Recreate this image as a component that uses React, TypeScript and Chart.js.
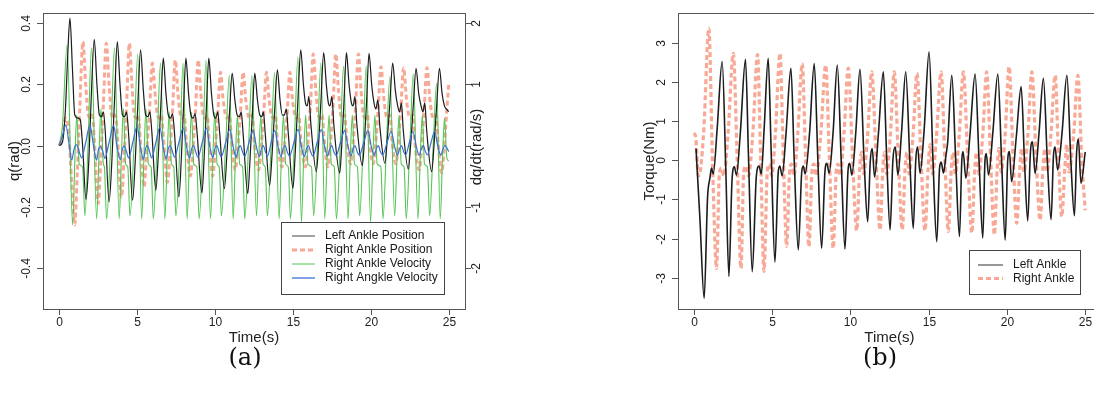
import { useEffect, useRef } from "react";
import { Chart, registerables } from "chart.js";
Chart.register(...registerables);

// ---------- tick values / labels ----------
const timeTicks = [0, 5, 10, 15, 20, 25];
const timeTickLabels = ["0", "5", "10", "15", "20", "25"];
const qTicks = [-0.4, -0.2, 0, 0.2, 0.4];
const qTickLabels = ["-0.4", "-0.2", "0.0", "0.2", "0.4"];
const dqTicks = [-2, -1, 0, 1, 2];
const dqTickLabels = ["-2", "-1", "", "1", "2"];
const torqueTicks = [-3, -2, -1, 0, 1, 2, 3];
const torqueTickLabels = ["-3", "-2", "-1", "0", "1", "2", "3"];

const legendA = ["Left Ankle Position", "Right Ankle Position", "Right Ankle Velocity", "Right Angkle Velocity"];
const legendB = ["Left Ankle", "Right Ankle"];

// ---------- panel (a): joint positions q (rad) and velocity ----------
// [time s, q rad]
const leftAnklePos: [number, number][] = [
  [0, 0], [0.2, 0.01], [0.4, 0.12], [0.55, 0.3], [0.69, 0.417], [0.85, 0.25], [1.0, 0.1], [1.2, 0.09], [1.35, 0.085], [1.5, 0.0],
  [1.72, -0.176], [1.9, -0.05], [2.05, 0.15], [2.25, 0.348], [2.42, 0.2], [2.58, 0.1], [2.72, 0.095], [2.83, 0.11], [2.95, 0.05],
  [3.2, -0.184], [3.38, -0.05], [3.55, 0.15], [3.73, 0.34], [3.9, 0.2], [4.06, 0.1], [4.2, 0.095], [4.32, 0.11], [4.45, 0.04],
  [4.71, -0.179], [4.88, -0.05], [5.05, 0.14], [5.22, 0.313], [5.4, 0.18], [5.55, 0.1], [5.7, 0.095], [5.82, 0.11], [5.95, 0.04],
  [6.2, -0.146], [6.36, -0.03], [6.52, 0.13], [6.68, 0.286], [6.85, 0.17], [7.0, 0.1], [7.15, 0.09], [7.27, 0.105], [7.4, 0.04],
  [7.68, -0.168], [7.84, -0.04], [7.98, 0.13], [8.13, 0.286], [8.3, 0.17], [8.45, 0.1], [8.6, 0.09], [8.72, 0.105], [8.85, 0.04],
  [9.16, -0.155], [9.3, -0.04], [9.45, 0.13], [9.6, 0.286], [9.77, 0.17], [9.92, 0.1], [10.05, 0.09], [10.17, 0.11], [10.3, 0.04],
  [10.6, -0.141], [10.76, -0.03], [10.93, 0.11], [11.1, 0.237], [11.27, 0.15], [11.42, 0.1], [11.57, 0.095], [11.68, 0.11], [11.8, 0.04],
  [12.1, -0.157], [12.25, -0.04], [12.4, 0.11], [12.55, 0.237], [12.72, 0.15], [12.87, 0.1], [13.0, 0.095], [13.1, 0.11], [13.22, 0.04],
  [13.5, -0.13], [13.66, -0.03], [13.83, 0.12], [14.0, 0.248], [14.17, 0.15], [14.32, 0.1], [14.45, 0.1], [14.57, 0.12], [14.7, 0.04],
  [15.0, -0.14], [15.15, -0.02], [15.32, 0.15], [15.5, 0.313], [15.67, 0.2], [15.8, 0.14], [15.92, 0.13], [16.02, 0.16], [16.15, 0.07],
  [16.5, -0.085], [16.64, 0.0], [16.8, 0.15], [16.97, 0.304], [17.14, 0.2], [17.27, 0.14], [17.38, 0.13], [17.5, 0.16], [17.62, 0.07],
  [18.0, -0.09], [18.13, 0.0], [18.28, 0.15], [18.43, 0.304], [18.6, 0.2], [18.75, 0.14], [18.86, 0.13], [18.98, 0.16], [19.1, 0.07],
  [19.45, -0.065], [19.58, 0.01], [19.73, 0.15], [19.88, 0.302], [20.05, 0.2], [20.2, 0.14], [20.32, 0.12], [20.45, 0.15], [20.58, 0.06],
  [20.9, -0.058], [21.05, 0.02], [21.22, 0.14], [21.4, 0.27], [21.57, 0.18], [21.72, 0.13], [21.84, 0.11], [21.96, 0.14], [22.08, 0.05],
  [22.4, -0.077], [22.55, 0.0], [22.72, 0.13], [22.9, 0.253], [23.07, 0.17], [23.22, 0.13], [23.34, 0.11], [23.46, 0.14], [23.58, 0.05],
  [23.9, -0.085], [24.05, 0.0], [24.22, 0.13], [24.4, 0.253], [24.57, 0.17], [24.72, 0.13], [24.84, 0.12], [25.0, 0.111],
];

const rightAnklePos: [number, number][] = [
  [0, 0], [0.2, 0.03], [0.4, 0.09], [0.6, 0.05], [0.8, -0.12], [1.0, -0.26], [1.15, -0.1], [1.32, 0.12],
  [1.52, 0.34], [1.7, 0.2], [1.87, 0.1], [2.0, 0.09], [2.12, 0.1], [2.25, 0.02], [2.5, -0.19], [2.66, -0.06], [2.83, 0.13],
  [3.02, 0.335], [3.2, 0.2], [3.36, 0.1], [3.5, 0.09], [3.62, 0.1], [3.75, 0.02], [4.0, -0.17], [4.15, -0.05], [4.32, 0.13],
  [4.5, 0.335], [4.67, 0.2], [4.82, 0.1], [4.96, 0.09], [5.08, 0.1], [5.2, 0.02], [5.45, -0.135], [5.6, -0.03], [5.78, 0.1],
  [5.98, 0.27], [6.15, 0.17], [6.3, 0.1], [6.44, 0.09], [6.56, 0.1], [6.7, 0.02], [6.95, -0.12], [7.1, -0.03], [7.27, 0.11],
  [7.45, 0.28], [7.62, 0.17], [7.77, 0.1], [7.9, 0.09], [8.02, 0.1], [8.15, 0.02], [8.42, -0.1], [8.57, -0.02], [8.74, 0.11],
  [8.92, 0.28], [9.09, 0.17], [9.24, 0.1], [9.38, 0.09], [9.5, 0.1], [9.62, 0.02], [9.85, -0.1], [10.0, -0.02], [10.17, 0.1],
  [10.35, 0.24], [10.52, 0.15], [10.67, 0.1], [10.8, 0.09], [10.92, 0.1], [11.05, 0.02], [11.3, -0.08], [11.45, -0.01], [11.62, 0.1],
  [11.8, 0.24], [11.97, 0.15], [12.12, 0.1], [12.26, 0.09], [12.38, 0.1], [12.5, 0.02], [12.8, -0.08], [12.95, -0.01], [13.12, 0.1],
  [13.3, 0.24], [13.47, 0.15], [13.62, 0.1], [13.76, 0.09], [13.88, 0.1], [14.0, 0.02], [14.3, -0.07], [14.45, 0.0], [14.62, 0.1],
  [14.8, 0.24], [14.97, 0.15], [15.12, 0.1], [15.26, 0.09], [15.38, 0.1], [15.5, 0.02], [15.8, -0.07], [15.95, 0.0], [16.12, 0.13],
  [16.3, 0.3], [16.47, 0.18], [16.62, 0.1], [16.76, 0.09], [16.88, 0.1], [17.0, 0.02], [17.25, -0.07], [17.4, 0.0], [17.57, 0.13],
  [17.75, 0.3], [17.92, 0.18], [18.07, 0.1], [18.2, 0.09], [18.32, 0.1], [18.45, 0.02], [18.7, -0.06], [18.85, 0.0], [19.02, 0.13],
  [19.2, 0.3], [19.37, 0.18], [19.52, 0.1], [19.66, 0.09], [19.78, 0.1], [19.9, 0.02], [20.15, -0.06], [20.3, 0.0], [20.47, 0.12],
  [20.65, 0.258], [20.82, 0.16], [20.97, 0.1], [21.1, 0.09], [21.22, 0.1], [21.35, 0.02], [21.6, -0.06], [21.75, 0.0], [21.92, 0.12],
  [22.1, 0.255], [22.27, 0.16], [22.42, 0.1], [22.56, 0.09], [22.68, 0.1], [22.8, 0.02], [23.1, -0.08], [23.25, -0.01], [23.42, 0.12],
  [23.6, 0.255], [23.77, 0.16], [23.92, 0.1], [24.06, 0.09], [24.18, 0.1], [24.3, 0.02], [24.55, -0.09], [24.7, -0.01], [24.85, 0.1],
  [25.0, 0.204],
];

// [time s, dq/dt rad/s] (right axis)
const rightAnkleVel: [number, number][] = [
  [0, 0], [0.2, 0.3], [0.51, 1.65], [0.86, -1.3], [1.02, -0.1], [1.13, 0.5], [1.28, -0.3], [1.5, -0.35], [1.65, -1.15], [1.85, 0.0],
  [2.07, 1.6], [2.4, -1.2], [2.56, -0.1], [2.68, 0.6], [2.83, -0.3], [2.9, -0.35], [3.04, -1.2], [3.3, 0.0],
  [3.55, 1.6], [3.85, -1.2], [4.0, -0.1], [4.12, 0.6], [4.26, -0.3], [4.4, -0.35], [4.54, -1.15], [4.8, 0.0],
  [5.04, 1.5], [5.29, -1.2], [5.45, -0.1], [5.57, 0.6], [5.72, -0.3], [5.9, -0.35], [6.04, -1.2], [6.28, 0.0],
  [6.5, 1.35], [6.78, -1.2], [6.94, -0.1], [7.06, 0.55], [7.2, -0.3], [7.35, -0.35], [7.49, -1.15], [7.75, 0.0],
  [7.95, 1.35], [8.21, -1.2], [8.37, -0.1], [8.49, 0.55], [8.63, -0.3], [8.83, -0.35], [8.98, -1.2], [9.22, 0.0],
  [9.42, 1.4], [9.71, -1.2], [9.87, -0.1], [9.99, 0.55], [10.13, -0.3], [10.27, -0.35], [10.41, -1.15], [10.68, 0.0],
  [10.92, 1.15], [11.16, -1.2], [11.32, -0.1], [11.44, 0.5], [11.58, -0.3], [11.77, -0.35], [11.91, -1.2], [12.15, 0.0],
  [12.37, 1.15], [12.66, -1.15], [12.82, -0.1], [12.94, 0.5], [13.08, -0.3], [13.22, -0.35], [13.36, -1.15], [13.6, 0.0],
  [13.82, 1.2], [14.11, -1.2], [14.27, -0.1], [14.39, 0.5], [14.53, -0.3], [14.7, -0.35], [14.84, -1.2], [15.08, 0.0],
  [15.32, 1.45], [15.54, -1.25], [15.7, -0.1], [15.82, 0.5], [15.96, -0.3], [16.19, -0.35], [16.33, -1.15], [16.57, 0.0],
  [16.79, 1.35], [17.04, -1.2], [17.2, -0.1], [17.32, 0.5], [17.46, -0.3], [17.65, -0.35], [17.79, -1.2], [18.03, 0.0],
  [18.25, 1.3], [18.53, -1.2], [18.69, -0.1], [18.81, 0.5], [18.95, -0.3], [19.14, -0.35], [19.28, -1.15], [19.5, 0.0],
  [19.7, 1.3], [19.98, -1.25], [20.14, -0.1], [20.26, 0.5], [20.4, -0.3], [20.64, -0.35], [20.78, -1.2], [21.0, 0.0],
  [21.22, 1.13], [21.53, -1.15], [21.69, -0.1], [21.81, 0.5], [21.95, -0.3], [22.13, -0.35], [22.27, -1.2], [22.5, 0.0],
  [22.72, 1.17], [23.02, -1.2], [23.18, -0.1], [23.3, 0.5], [23.44, -0.3], [23.63, -0.35], [23.77, -1.15], [24.0, 0.0],
  [24.22, 1.02], [24.45, -1.2], [24.61, -0.1], [24.73, 0.45], [24.87, -0.2], [25.0, -0.25],
];

// [time s, q rad] small oscillation (left axis)
const rightAngkleVel: [number, number][] = [
  [0, 0], [0.2, 0.03], [0.42, 0.068], [0.62, 0.01], [0.8, -0.048], [0.96, -0.01], [1.12, 0.002], [1.28, -0.02], [1.44, -0.04],
  [1.7, 0.01], [1.97, 0.068], [2.2, 0.0], [2.4, -0.048], [2.53, -0.01], [2.66, -0.003], [2.8, -0.02], [2.93, -0.042],
  [3.2, 0.01], [3.49, 0.066], [3.7, 0.0], [3.92, -0.046], [4.06, -0.01], [4.18, -0.002], [4.32, -0.02], [4.45, -0.04],
  [4.72, 0.01], [5.0, 0.063], [5.2, 0.0], [5.4, -0.045], [5.54, -0.01], [5.66, 0.0], [5.8, -0.02], [5.93, -0.04],
  [6.2, 0.01], [6.46, 0.06], [6.66, 0.0], [6.86, -0.044], [7.0, -0.01], [7.13, 0.0], [7.27, -0.02], [7.4, -0.038],
  [7.68, 0.01], [7.96, 0.058], [8.16, 0.0], [8.36, -0.042], [8.5, -0.01], [8.62, 0.0], [8.76, -0.02], [8.9, -0.038],
  [9.18, 0.01], [9.45, 0.057], [9.65, 0.0], [9.85, -0.04], [9.99, -0.01], [10.12, 0.0], [10.25, -0.02], [10.4, -0.036],
  [10.68, 0.01], [10.95, 0.053], [11.15, 0.0], [11.35, -0.038], [11.5, -0.01], [11.62, 0.0], [11.76, -0.02], [11.9, -0.035],
  [12.18, 0.01], [12.44, 0.05], [12.64, 0.0], [12.84, -0.036], [12.98, -0.01], [13.1, 0.0], [13.23, -0.02], [13.37, -0.034],
  [13.6, 0.01], [13.83, 0.05], [14.03, 0.0], [14.23, -0.036], [14.37, -0.01], [14.5, 0.0], [14.63, -0.02], [14.78, -0.034],
  [15.06, 0.01], [15.33, 0.053], [15.53, 0.0], [15.73, -0.036], [15.87, -0.01], [16.0, 0.0], [16.13, -0.02], [16.28, -0.034],
  [16.55, 0.01], [16.82, 0.052], [17.02, 0.0], [17.22, -0.034], [17.36, -0.01], [17.49, 0.0], [17.62, -0.02], [17.77, -0.032],
  [18.05, 0.01], [18.32, 0.05], [18.52, 0.0], [18.72, -0.034], [18.86, -0.01], [18.98, 0.0], [19.12, -0.02], [19.26, -0.032],
  [19.54, 0.01], [19.81, 0.05], [20.01, 0.0], [20.21, -0.032], [20.35, -0.01], [20.48, 0.0], [20.61, -0.02], [20.76, -0.03],
  [21.04, 0.01], [21.31, 0.046], [21.51, 0.0], [21.71, -0.032], [21.85, -0.01], [21.97, 0.0], [22.1, -0.02], [22.24, -0.03],
  [22.47, 0.01], [22.7, 0.046], [22.9, 0.0], [23.1, -0.032], [23.24, -0.01], [23.37, 0.0], [23.5, -0.02], [23.64, -0.03],
  [23.86, 0.01], [24.09, 0.046], [24.29, 0.0], [24.49, -0.032], [24.63, -0.01], [24.76, 0.0], [25.0, -0.02],
];

// ---------- panel (b): torques (Nm) ----------
const leftAnkleTorque: [number, number][] = [
  [0.15, 0.3], [0.4, -1.5], [0.67, -3.53], [0.89, -0.93], [1.04, -0.45], [1.14, -0.2], [1.25, -0.35], [1.5, 0.8], [1.82, 2.52],
  [2.05, -0.2], [2.25, -2.97], [2.45, -0.5], [2.6, -0.17], [2.73, -0.38], [2.98, 0.7], [3.31, 2.58],
  [3.5, 0.1], [3.74, -2.85], [4.0, -0.42], [4.17, -0.15], [4.32, -0.35], [4.5, 0.8], [4.76, 2.6],
  [4.95, 0.2], [5.19, -2.6], [5.4, -0.3], [5.5, -0.15], [5.65, -0.4], [5.9, 0.7], [6.21, 2.35],
  [6.42, 0.0], [6.68, -2.29], [6.9, -0.3], [7.0, -0.15], [7.12, -0.35], [7.4, 0.7], [7.7, 2.47],
  [7.93, 0.0], [8.17, -2.25], [8.38, -0.3], [8.5, -0.08], [8.65, -0.33], [8.9, 0.7], [9.17, 2.43],
  [9.42, 0.0], [9.66, -2.27], [9.85, -0.3], [9.96, -0.08], [10.1, -0.38], [10.35, 0.7], [10.62, 2.32],
  [10.88, 0.0], [11.11, -1.57], [11.28, 0.0], [11.4, 0.3], [11.55, -0.43], [11.8, 0.7], [12.11, 2.26],
  [12.33, 0.0], [12.54, -1.78], [12.72, 0.0], [12.87, 0.34], [13.04, -0.38], [13.27, 0.7], [13.54, 2.26],
  [13.8, 0.0], [14.02, -1.74], [14.18, 0.0], [14.3, 0.34], [14.45, -0.33], [14.72, 0.8], [15.03, 2.77],
  [15.28, 0.0], [15.52, -2.08], [15.7, -0.2], [15.8, -0.05], [15.95, -0.33], [16.1, 0.1], [16.22, 0.47], [16.48, 2.17],
  [16.73, 0.0], [16.97, -1.95], [17.12, 0.0], [17.2, 0.22], [17.38, -0.46], [17.65, 0.7], [17.97, 2.2],
  [18.22, 0.0], [18.46, -1.99], [18.6, 0.0], [18.68, 0.17], [18.83, -0.38], [19.1, 0.7], [19.42, 2.2],
  [19.66, 0.0], [19.89, -2.04], [20.05, 0.0], [20.16, 0.22], [20.3, -0.55], [20.6, 0.6], [20.91, 1.88],
  [21.12, 0.0], [21.33, -1.55], [21.5, 0.2], [21.63, 0.47], [21.8, -0.34], [22.05, 0.7], [22.33, 2.09],
  [22.58, 0.0], [22.82, -1.52], [22.97, 0.1], [23.07, 0.34], [23.24, -0.25], [23.52, 0.7], [23.83, 2.17],
  [24.08, 0.0], [24.31, -1.42], [24.45, 0.2], [24.56, 0.55], [24.73, -0.59], [25.0, 0.21],
];

const rightAnkleTorque: [number, number][] = [
  [0.0, 0.69], [0.12, 0.62], [0.3, -0.4], [0.45, -0.2], [0.65, 0.8], [0.97, 3.37],
  [1.2, 0.0], [1.46, -2.76], [1.65, -0.3], [1.78, -0.2], [1.92, -0.4], [2.2, 0.7], [2.53, 2.73],
  [2.78, 0.0], [3.02, -2.76], [3.2, -0.3], [3.35, -0.15], [3.5, -0.4], [3.78, 0.7], [4.08, 2.7],
  [4.28, 0.0], [4.49, -2.84], [4.7, -0.3], [4.83, -0.1], [4.98, -0.4], [5.22, 0.7], [5.51, 2.73],
  [5.73, 0.0], [5.94, -2.2], [6.12, -0.3], [6.25, -0.1], [6.4, -0.4], [6.65, 0.7], [6.93, 2.47],
  [7.15, 0.0], [7.36, -2.21], [7.55, -0.3], [7.68, -0.1], [7.82, -0.4], [8.12, 0.7], [8.43, 2.43],
  [8.67, 0.0], [8.91, -2.25], [9.1, -0.3], [9.22, -0.1], [9.36, -0.4], [9.6, 0.7], [9.87, 2.35],
  [10.15, 0.0], [10.41, -1.8], [10.6, -0.2], [10.72, 0.2], [10.85, -0.35], [11.1, 0.6], [11.37, 2.26],
  [11.65, 0.0], [11.9, -1.78], [12.08, -0.2], [12.2, 0.2], [12.33, -0.35], [12.55, 0.6], [12.81, 2.26],
  [13.07, 0.0], [13.32, -1.78], [13.5, -0.2], [13.62, 0.2], [13.75, -0.35], [14.0, 0.6], [14.26, 2.22],
  [14.52, 0.0], [14.77, -1.8], [14.97, -0.2], [15.1, 0.4], [15.25, -0.35], [15.5, 0.6], [15.8, 2.26],
  [16.04, 0.0], [16.26, -1.82], [16.45, -0.2], [16.57, 0.2], [16.7, -0.35], [16.95, 0.6], [17.22, 2.26],
  [17.5, 0.0], [17.76, -1.86], [17.95, -0.2], [18.07, 0.2], [18.2, -0.35], [18.45, 0.6], [18.71, 2.26],
  [18.96, 0.0], [19.2, -1.9], [19.38, -0.2], [19.5, 0.3], [19.63, -0.3], [19.88, 0.6], [20.14, 2.39],
  [20.4, 0.0], [20.63, -1.61], [20.82, -0.2], [20.95, 0.3], [21.08, -0.3], [21.33, 0.6], [21.59, 2.26],
  [21.87, 0.0], [22.12, -1.53], [22.3, -0.2], [22.42, 0.3], [22.55, -0.3], [22.8, 0.6], [23.08, 2.17],
  [23.3, 0.0], [23.5, -1.44], [23.7, -0.2], [23.82, 0.4], [23.95, -0.3], [24.25, 0.6], [24.53, 2.17],
  [24.78, 0.0], [25.0, -1.28],
];

// ---------- styling ----------
const FONT = '"Liberation Sans", Arial, Helvetica, sans-serif';
const BLACK = "#1c1c1c";
const ORANGE = "rgba(243,115,82,0.62)";
const GREEN = "#55c555";
const BLUE = "#3c6fd4";
const FRAME = "#555555";

type LegendItem = { label: string; color: string; width: number; dash: number[] };
type PanelSpec = {
  offsetX: number;
  xTitleAt: number;
  yAxes: { id: string; side: "left" | "right"; ticks: number[]; labels: string[]; labelX: number }[];
  yTitles: { text: string; x: number; y: number }[];
  legend: { x0: number; y0: number; x1: number; y1: number; lx0: number; lx1: number; tx: number; rows: number[]; items: LegendItem[] };
};

function makeAxesPlugin(spec: PanelSpec) {
  return {
    id: "rStyleAxes",
    afterDraw(chart: any) {
      const ctx: CanvasRenderingContext2D = chart.ctx;
      const ca = chart.chartArea;
      const xs = chart.scales.x;
      const ox = spec.offsetX;
      ctx.save();
      // frame
      ctx.strokeStyle = FRAME;
      ctx.lineWidth = 1;
      ctx.setLineDash([]);
      ctx.strokeRect(Math.round(ca.left) + 0.5, Math.round(ca.top) + 0.5, Math.round(ca.right - ca.left), Math.round(ca.bottom - ca.top));
      ctx.fillStyle = "#222";
      ctx.font = `12px ${FONT}`;
      // x ticks
      ctx.textAlign = "center";
      ctx.textBaseline = "middle";
      timeTicks.forEach((v, i) => {
        const px = Math.round(xs.getPixelForValue(v)) + 0.5;
        ctx.beginPath();
        ctx.moveTo(px, ca.bottom);
        ctx.lineTo(px, ca.bottom + 6);
        ctx.stroke();
        ctx.fillText(timeTickLabels[i], px, ca.bottom + 14);
      });
      // y axes
      spec.yAxes.forEach((ax) => {
        const sc = chart.scales[ax.id];
        const edge = ax.side === "left" ? ca.left : ca.right;
        const dir = ax.side === "left" ? -1 : 1;
        ax.ticks.forEach((v, i) => {
          const py = Math.round(sc.getPixelForValue(v)) + 0.5;
          ctx.beginPath();
          ctx.moveTo(edge, py);
          ctx.lineTo(edge + dir * 6, py);
          ctx.stroke();
          if (ax.labels[i]) {
            ctx.save();
            ctx.translate(ax.labelX - ox, py);
            ctx.rotate(-Math.PI / 2);
            ctx.fillText(ax.labels[i], 0, 0);
            ctx.restore();
          }
        });
      });
      // axis titles
      ctx.font = `15px ${FONT}`;
      ctx.fillText("Time(s)", xs.getPixelForValue(spec.xTitleAt), ca.bottom + 29);
      spec.yTitles.forEach((t) => {
        ctx.save();
        ctx.translate(t.x - ox, t.y);
        ctx.rotate(-Math.PI / 2);
        ctx.fillText(t.text, 0, 0);
        ctx.restore();
      });
      // legend
      const lg = spec.legend;
      ctx.fillStyle = "#ffffff";
      ctx.fillRect(lg.x0 - ox, lg.y0, lg.x1 - lg.x0, lg.y1 - lg.y0);
      ctx.strokeStyle = "#444";
      ctx.lineWidth = 1;
      ctx.strokeRect(Math.round(lg.x0 - ox) + 0.5, Math.round(lg.y0) + 0.5, Math.round(lg.x1 - lg.x0), Math.round(lg.y1 - lg.y0));
      ctx.font = `12px ${FONT}`;
      ctx.textAlign = "left";
      lg.items.forEach((it, i) => {
        const y = lg.rows[i];
        ctx.strokeStyle = it.color;
        ctx.lineWidth = it.width;
        ctx.setLineDash(it.dash);
        ctx.beginPath();
        ctx.moveTo(lg.lx0 - ox, y);
        ctx.lineTo(lg.lx1 - ox, y);
        ctx.stroke();
        ctx.setLineDash([]);
        ctx.fillStyle = "#1a1a1a";
        ctx.fillText(it.label, lg.tx - ox, y);
      });
      ctx.restore();
    },
  };
}

const toXY = (pts: [number, number][]) => pts.map(([x, y]) => ({ x, y }));

function lineDs(label: string, pts: [number, number][], color: string, width: number, dash: number[], axis: string, order: number) {
  return {
    label,
    data: toXY(pts),
    borderColor: color,
    borderWidth: width,
    borderDash: dash,
    pointRadius: 0,
    fill: false,
    cubicInterpolationMode: "monotone" as const,
    yAxisID: axis,
    order,
  };
}

export default function App() {
  const refA = useRef<HTMLCanvasElement | null>(null);
  const refB = useRef<HTMLCanvasElement | null>(null);

  useEffect(() => {
    const specA: PanelSpec = {
      offsetX: 0,
      xTitleAt: 12.5,
      yAxes: [
        { id: "y", side: "left", ticks: qTicks, labels: qTickLabels, labelX: 27 },
        { id: "y2", side: "right", ticks: dqTicks, labels: dqTickLabels, labelX: 477 },
      ],
      yTitles: [
        { text: "q(rad)", x: 15, y: 161 },
        { text: "dq/dt(rad/s)", x: 477, y: 147 },
      ],
      legend: {
        x0: 281, y0: 222, x1: 444, y1: 294, lx0: 292, lx1: 315, tx: 325,
        rows: [236, 250, 264, 278],
        items: [
          { label: legendA[0], color: "#444", width: 1, dash: [] },
          { label: legendA[1], color: ORANGE, width: 3, dash: [5, 3] },
          { label: legendA[2], color: GREEN, width: 1, dash: [] },
          { label: legendA[3], color: BLUE, width: 1.3, dash: [] },
        ],
      },
    };
    const specB: PanelSpec = {
      offsetX: 547,
      xTitleAt: 12.5,
      yAxes: [{ id: "y", side: "left", ticks: torqueTicks, labels: torqueTickLabels, labelX: 662 }],
      yTitles: [{ text: "Torque(Nm)", x: 650, y: 161 }],
      legend: {
        x0: 969, y0: 250, x1: 1080, y1: 294, lx0: 978, lx1: 1003, tx: 1013,
        rows: [265, 278.5],
        items: [
          { label: legendB[0], color: "#333", width: 1, dash: [] },
          { label: legendB[1], color: ORANGE, width: 3, dash: [5, 3] },
        ],
      },
    };

    const chartA = new Chart(refA.current!, {
      type: "line",
      data: {
        datasets: [
          lineDs(legendA[0], leftAnklePos, BLACK, 1.2, [], "y", 2),
          lineDs(legendA[1], rightAnklePos, ORANGE, 3, [5, 3], "y", 4),
          lineDs(legendA[2], rightAnkleVel, GREEN, 1.1, [], "y2", 3),
          lineDs(legendA[3], rightAngkleVel, BLUE, 1.2, [], "y", 1),
        ],
      },
      options: {
        animation: false,
        responsive: false,
        events: [],
        layout: { padding: { left: 43, top: 13, right: 547 - 465, bottom: 395 - 309 } },
        plugins: { legend: { display: false }, tooltip: { enabled: false } },
        scales: {
          x: { type: "linear", min: -1.04, max: 26.04, display: false },
          y: { type: "linear", min: -0.535, max: 0.434, display: false },
          y2: { type: "linear", min: -2.675, max: 2.17, display: false, position: "right" },
        },
      },
      plugins: [makeAxesPlugin(specA)],
    } as any);

    const chartB = new Chart(refB.current!, {
      type: "line",
      data: {
        datasets: [
          lineDs(legendB[0], leftAnkleTorque, BLACK, 1.6, [], "y", 1),
          lineDs(legendB[1], rightAnkleTorque, ORANGE, 3.2, [5, 3], "y", 2),
        ],
      },
      options: {
        animation: false,
        responsive: false,
        events: [],
        layout: { padding: { left: 131, top: 13, right: 27, bottom: 395 - 309 } },
        plugins: { legend: { display: false }, tooltip: { enabled: false } },
        scales: {
          x: { type: "linear", min: -1.0, max: 27.22, display: false },
          y: { type: "linear", min: -3.8, max: 3.76, display: false },
        },
      },
      plugins: [makeAxesPlugin(specB)],
    } as any);

    return () => {
      chartA.destroy();
      chartB.destroy();
    };
  }, []);

  const labelStyle = (x: number): React.CSSProperties => ({
    position: "absolute",
    left: x,
    top: 357,
    transform: "translate(-50%, -50%)",
    fontFamily: '"DejaVu Serif", "Liberation Serif", serif',
    fontSize: 24,
    color: "#111",
    whiteSpace: "nowrap",
  });

  return (
    <div style={{ position: "fixed", left: 0, top: 0, width: 1094, height: 395, overflow: "hidden", background: "#fff" }}>
      <canvas ref={refA} width={547} height={395} style={{ position: "absolute", left: 0, top: 0, width: 547, height: 395 }} />
      <canvas ref={refB} width={600} height={395} style={{ position: "absolute", left: 547, top: 0, width: 600, height: 395 }} />
      <div style={labelStyle(245)}>(a)</div>
      <div style={labelStyle(880)}>(b)</div>
    </div>
  );
}
